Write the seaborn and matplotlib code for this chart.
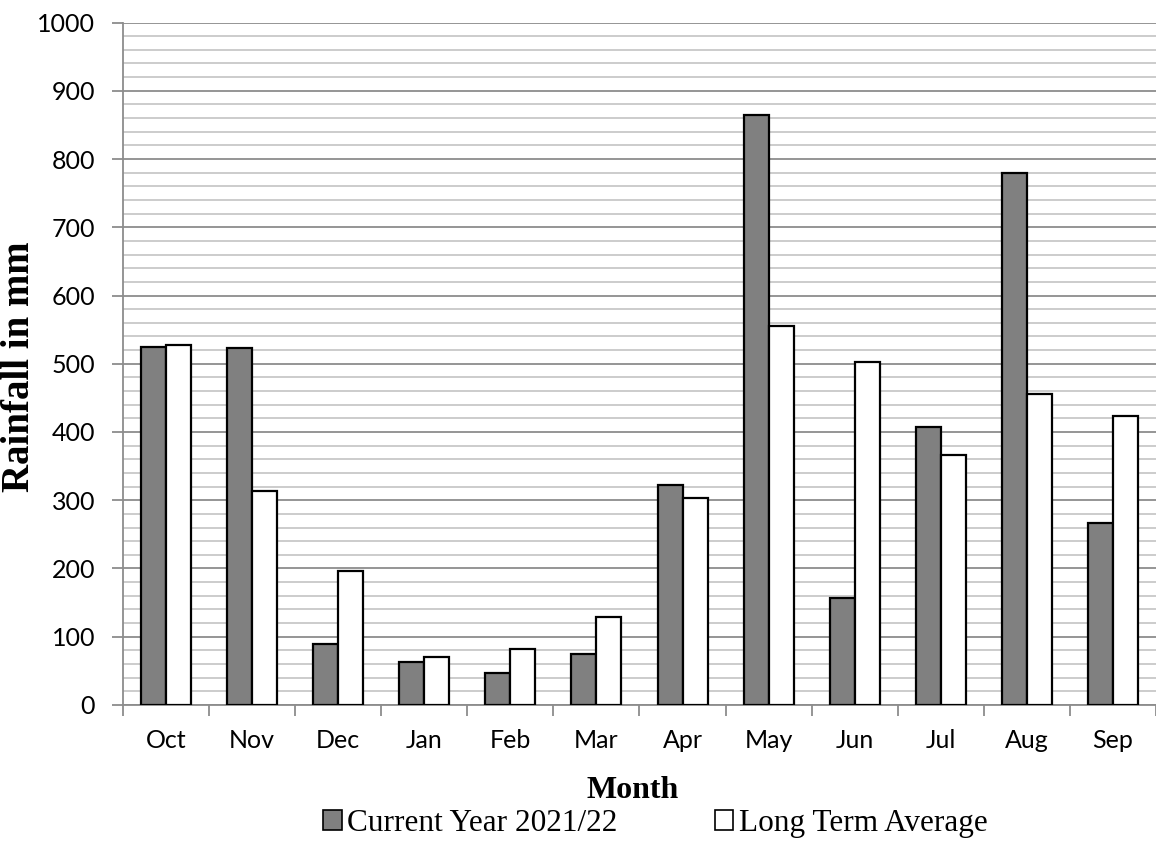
import numpy as np
import pandas as pd
import matplotlib
matplotlib.use("Agg")
import matplotlib.pyplot as plt
from matplotlib.ticker import MultipleLocator, FixedLocator
import seaborn as sns

months = ["Oct", "Nov", "Dec", "Jan", "Feb", "Mar", "Apr", "May", "Jun", "Jul", "Aug", "Sep"]
current_year = [524, 523, 90, 63, 47, 75, 322, 864, 156, 407, 780, 267]
long_term_avg = [527, 313, 197, 71, 82, 129, 303, 555, 502, 367, 455, 424]
series_names = ["Current Year 2021/22", "Long Term Average"]

rows = []
for m, c, l in zip(months, current_year, long_term_avg):
    rows.append({"Month": m, "Rainfall": c, "Series": series_names[0]})
    rows.append({"Month": m, "Rainfall": l, "Series": series_names[1]})
df = pd.DataFrame(rows)

sns.set_style("white")
plt.rcParams['font.family'] = ['Lato', 'DejaVu Sans']
plt.rcParams['text.color'] = 'black'
plt.rcParams['axes.labelcolor'] = 'black'

fig = plt.figure(figsize=(11.56, 8.47), dpi=100)
ax = fig.add_axes([0.1064, 0.1677, 0.8936, 0.8057])

sns.barplot(data=df, x="Month", y="Rainfall", hue="Series", order=months,
            palette=["#808080", "#ffffff"], edgecolor="black", linewidth=1.6,
            width=0.58, gap=0, ax=ax, legend=False, errorbar=None, zorder=3)

ax.set_ylim(0, 1000)
ax.set_xlim(-0.5, 11.5)
ax.yaxis.set_major_locator(MultipleLocator(100))
ax.yaxis.set_minor_locator(MultipleLocator(20))
ax.xaxis.set_minor_locator(FixedLocator(np.arange(-0.5, 12, 1)))
ax.grid(which="major", axis="y", color="#8c8c8c", linewidth=1.3, zorder=0)
ax.grid(which="minor", axis="y", color="#c8c8c8", linewidth=1.3, zorder=0)
ax.set_axisbelow(True)

ax.spines["right"].set_visible(False)
ax.spines["top"].set_visible(False)
ax.spines["left"].set_color("#8c8c8c")
ax.spines["bottom"].set_color("#8c8c8c")
ax.spines["left"].set_linewidth(1.3)
ax.spines["bottom"].set_linewidth(1.3)

ax.tick_params(axis="y", which="major", length=8, width=1.3, color="#8c8c8c",
               labelsize=18, pad=12, left=True, labelcolor="black")
ax.tick_params(axis="y", which="minor", length=0)
ax.tick_params(axis="x", which="major", length=0, labelsize=18, pad=17, labelcolor="black")
ax.tick_params(axis="x", which="minor", length=8, width=1.3, color="#8c8c8c", bottom=True)

ax.set_xlabel("Month", fontsize=23, fontweight="bold", family="Liberation Serif")
ax.set_ylabel("Rainfall in mm", fontsize=28, fontweight="bold", family="Liberation Serif")
ax.xaxis.set_label_coords(0.493, -0.104)
ax.yaxis.set_label_coords(-0.082, 0.496)

handles = [plt.Rectangle((0, 0), 1, 1, facecolor="#808080", edgecolor="black", linewidth=1.2),
           plt.Rectangle((0, 0), 1, 1, facecolor="#ffffff", edgecolor="black", linewidth=1.2)]
fig.legend(handles, series_names, loc="center", bbox_to_anchor=(0.567, 0.028), ncol=2,
           frameon=False, prop={"family": "Liberation Serif", "size": 22.5},
           handlelength=0.6, handleheight=0.6, handletextpad=0.18, columnspacing=3.1)

fig.savefig("out.png", dpi=100)
